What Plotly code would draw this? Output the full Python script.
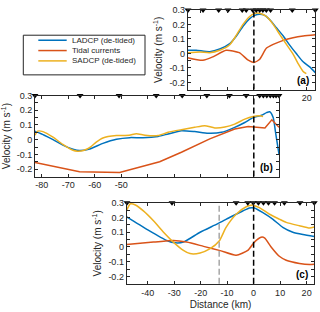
import plotly.graph_objects as go

# ---------------- data ----------------
# Panel (a)
a_dist_lad = [-25, -21.8, -16.7, -12.9, -9.1, -6.6, -4.1, -1.6, 0.3, 2.2, 4.1, 6, 8.6, 11.1, 13.6, 16.1, 18.6, 21.2, 23.2]
a_lad = [0.022, 0.022, 0.012, 0.03, 0.067, 0.12, 0.187, 0.24, 0.262, 0.27, 0.262, 0.232, 0.175, 0.12, 0.055, -0.003, -0.058, -0.095, -0.133]
a_dist_sad = [-25, -20.5, -16.7, -12.9, -9.1, -6.6, -4.1, -1.6, 0.3, 2.2, 4.7, 7.3, 9.8, 12.3, 14.8, 16.7, 18.6, 19.8]
a_sad = [0.005, 0.01, 0.005, 0.022, 0.06, 0.126, 0.2, 0.255, 0.277, 0.277, 0.255, 0.2, 0.13, 0.062, -0.005, -0.07, -0.125, -0.14]
a_dist_tid = [-25, -19.3, -15.5, -10.5, -5.5, -2.3, 0, 2.2, 4.7, 7.3, 11.1, 14.8, 18.6, 23.2]
a_tid = [-0.03, -0.048, -0.024, 0.022, 0.005, -0.045, -0.062, -0.04, 0.035, 0.062, 0.09, 0.108, 0.12, 0.128]
a_stations = [-24.9, -19.2, -13.3, -9.8, -4.4, -2.9, -0.4, 0.9, 2.2, 3.4, 4.7, 6.3, 14.5, 23.2]

# Panel (b)
b_dist_lad = [-82.5, -79, -75.7, -72, -68.2, -65.7, -61.9, -56.9, -51.8, -46.8, -41.8, -36.1, -32.3, -27.3, -22.3, -17.2, -12.2, -7.2, -3.4, -0.25, 2.9, 4.8, 6, 7.3, 8.2, 9.5]
b_lad = [0.057, 0.03, 0.0, -0.037, -0.065, -0.074, -0.063, -0.025, 0.003, 0.014, 0.013, 0.022, 0.039, 0.061, 0.055, 0.044, 0.05, 0.084, 0.117, 0.15, 0.166, 0.184, 0.19, 0.15, 0.05, -0.1]
b_dist_sad = [-82.5, -81.5, -79.5, -75.7, -72, -68.2, -66.5, -64, -61.5, -59.4, -56.9, -51.8, -47, -44.3, -41, -36.1, -32.3, -27.3, -22.3, -18.5, -14.7, -10.9, -7.2, -3.4, -0.25, 2.3, 3.5]
b_sad = [0.03, 0.058, 0.055, 0.017, -0.032, -0.072, -0.078, -0.072, -0.048, -0.016, 0.012, 0.028, 0.03, 0.04, 0.03, 0.028, 0.05, 0.068, 0.084, 0.095, 0.08, 0.086, 0.106, 0.14, 0.158, 0.162, 0.158]
b_dist_tid = [-82.5, -65.7, -50.6, -35.5, -27.3, -16.6, -7.2, -2.1, 4.2, 6.8, 9.5]
b_tid = [-0.155, -0.217, -0.223, -0.15, -0.085, 0.006, 0.072, 0.09, 0.08, 0.135, 0.084]
b_stations = [-82.5, -65.5, -50.8, -36.8, -27, -17.7, -9.2, -2.9, 2.2, 3.6, 4.9, 6.2, 7.4, 8.4, 9.5]

# Panel (c)
c_dist_lad = [-47.9, -40.3, -32.8, -29.6, -26.5, -20.2, -13.5, -9.1, -4.1, -1.6, 0.3, 3.5, 7.2, 11, 14.8, 18.6, 22.9]
c_lad = [0.204, 0.12, 0.044, 0.028, 0.033, 0.1, 0.158, 0.2, 0.244, 0.265, 0.265, 0.233, 0.189, 0.133, 0.1, 0.084, 0.071]
c_dist_sad = [-47.9, -46.5, -44.6, -41.6, -37.8, -34, -30.3, -26.5, -24, -20.2, -16.4, -13, -10.4, -6.6, -2.8, -0.3, 2.2, 6, 9.7, 12.3, 17.3, 21.1, 22.9]
c_sad = [0.25, 0.293, 0.285, 0.245, 0.178, 0.1, 0.033, -0.023, -0.045, -0.041, -0.012, 0.04, 0.133, 0.222, 0.273, 0.284, 0.267, 0.222, 0.189, 0.167, 0.144, 0.128, 0.135]
c_dist_tid = [-47.9, -37.8, -30.3, -25.3, -18.9, -12.6, -6.6, -2.2, 0.3, 2.8, 4.1, 6.6, 9.7, 12.3, 17.3, 21.1, 22.9]
c_tid = [0.017, 0.033, 0.044, 0.033, 0.004, -0.025, -0.056, -0.023, 0.033, 0.066, 0.062, 0.0, -0.063, -0.09, -0.112, -0.12, -0.118]
c_stations = [-47.8, -30.8, -6.6, -2.2, -0.1, 1.8, 3.7, 5.6, 7.9, 11.6, 17.5, 22.9]

front_position = 0
c_gray_line = -13
y_top = 0.3

series_names = ["LADCP (de-tided)", "Tidal currents", "SADCP (de-tided)"]
colors = ["#0072BD", "#D95319", "#EDB120"]

# ---------------- figure ----------------
W, H = 320, 312
FONT = "Liberation Sans, Arial, sans-serif"
AX = "#262626"

fig = go.Figure()

panels = [
    ("x", "y", (a_dist_lad, a_lad), (a_dist_tid, a_tid), (a_dist_sad, a_sad), a_stations, "spline"),
    ("x2", "y2", (b_dist_lad, b_lad), (b_dist_tid, b_tid), (b_dist_sad, b_sad), b_stations, "linear"),
    ("x3", "y3", (c_dist_lad, c_lad), (c_dist_tid, c_tid), (c_dist_sad, c_sad), c_stations, "spline"),
]

for xa, ya, lad, tid, sad, st, tid_shape in panels:
    shapes = ["spline", tid_shape, "spline"]
    for (xs, ys), col, nm, shp in zip([lad, tid, sad], colors, series_names, shapes):
        line = dict(color=col, width=1.5, shape=shp)
        if shp == "spline":
            line["smoothing"] = 0.6
        fig.add_trace(go.Scatter(x=xs, y=ys, mode="lines", name=nm, showlegend=False,
                                 line=line, xaxis=xa, yaxis=ya, hoverinfo="skip"))
    fig.add_trace(go.Scatter(x=st, y=[y_top] * len(st), mode="markers", showlegend=False,
                             marker=dict(symbol="triangle-down", size=6, color="black"),
                             cliponaxis=False, xaxis=xa, yaxis=ya, hoverinfo="skip"))


def dom_x(a, b):
    return [a / W, b / W]


def dom_y(top, bot):
    return [1 - bot / H, 1 - top / H]


common = dict(showline=True, linecolor=AX, linewidth=1, mirror="ticks", ticks="inside",
              ticklen=3, tickcolor=AX, tickfont=dict(family=FONT, size=9, color=AX),
              showgrid=False, zeroline=False)

yvals = [-0.2, -0.1, 0, 0.1, 0.2, 0.3]
ytext = ["-0.2", "-0.1", "0", "0.1", "0.2", "0.3"]
ycommon = dict(common, range=[-0.25, 0.3], tickvals=yvals, ticktext=ytext,
               minor=dict(dtick=0.05, tick0=0, ticks="inside", ticklen=3, tickcolor=AX),
               title=dict(text="Velocity (m s<sup>-1</sup>)", font=dict(family=FONT, size=10, color=AX), standoff=4))

a_ticks = [-20, -10, 0, 10, 20]
b_ticks = [-80, -70, -60, -50, -40, -30, -20, -10, 0]
c_ticks = [-40, -30, -20, -10, 0, 10, 20]

fig.update_layout(
    width=W, height=H, margin=dict(l=0, r=0, t=0, b=0),
    paper_bgcolor="white", plot_bgcolor="white", showlegend=False,
    font=dict(family=FONT, color=AX), hovermode=False,
    xaxis=dict(common, domain=dom_x(187.7, 315.3), range=[-25, 23.2], tickvals=a_ticks,
               ticktext=["" if v != 20 else "20" for v in a_ticks], anchor="y"),
    yaxis=dict(ycommon, domain=dom_y(5, 86), anchor="x"),
    xaxis2=dict(common, domain=dom_x(35, 279), range=[-82.5, 9.5], tickvals=b_ticks,
                ticktext=[str(v) if v <= -50 else "" for v in b_ticks], anchor="y2"),
    yaxis2=dict(ycommon, domain=dom_y(92, 174.3), anchor="x2"),
    xaxis3=dict(common, domain=dom_x(126.7, 314.3), range=[-47.9, 22.9], tickvals=c_ticks,
                ticktext=[str(v) for v in c_ticks], anchor="y3",
                title=dict(text="Distance (km)", font=dict(family=FONT, size=10, color=AX), standoff=4)),
    yaxis3=dict(ycommon, domain=dom_y(201, 283.3), anchor="x3"),
)

dash = "6px,3px"
for xa, ya in [("x", "y"), ("x2", "y2"), ("x3", "y3")]:
    fig.add_shape(type="line", xref=xa, yref=f"{ya} domain", x0=front_position, x1=front_position,
                  y0=0, y1=1, line=dict(color="black", width=1.5, dash=dash))
fig.add_shape(type="line", xref="x3", yref="y3 domain", x0=c_gray_line, x1=c_gray_line,
              y0=0, y1=1, line=dict(color="#a6a6a6", width=1.5, dash=dash))

for lab, xa, ya in [("(a)", "x", "y"), ("(b)", "x2", "y2"), ("(c)", "x3", "y3")]:
    fig.add_annotation(text=f"<b>{lab}</b>", xref=f"{xa} domain", yref=f"{ya} domain", x=1, y=0,
                       xanchor="right", yanchor="bottom", xshift=-4, yshift=2, showarrow=False,
                       font=dict(family=FONT, size=10, color="black"))

# manual legend (compact, as in the reference)
fig.add_shape(type="rect", xref="paper", yref="paper", x0=23.3 / W, x1=145 / W,
              y0=1 - 71 / H, y1=1 - 30.7 / H, line=dict(color=AX, width=1), fillcolor="white")
for i, (nm, col) in enumerate(zip(series_names, colors)):
    yy = 1 - (35.8 + 10.5 * i) / H
    fig.add_shape(type="line", xref="paper", yref="paper", x0=38.3 / W, x1=66.7 / W, y0=yy, y1=yy,
                  line=dict(color=col, width=1.5))
    fig.add_annotation(text=nm, xref="paper", yref="paper", x=69.5 / W, y=yy, xanchor="left",
                       yanchor="middle", showarrow=False, font=dict(family=FONT, size=8, color=AX))

fig.write_html("out.html", config={"displayModeBar": False},
               post_script="document.body.style.margin='0';")
